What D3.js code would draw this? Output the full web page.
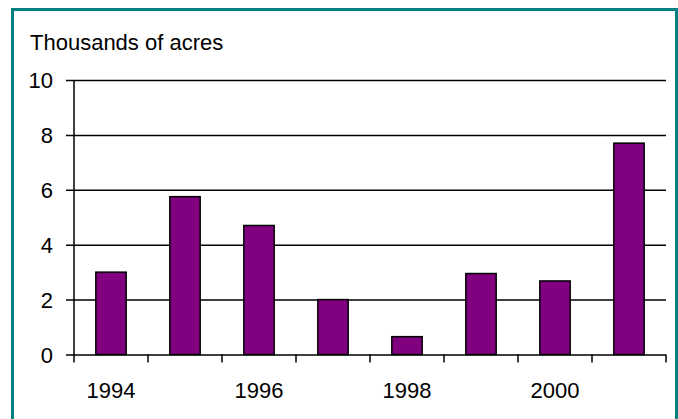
<!DOCTYPE html>
<html>
<head>
<meta charset="utf-8">
<script src="https://cdn.jsdelivr.net/npm/d3@7"></script>
<style>
  html, body { margin: 0; padding: 0; background: #ffffff; }
  svg { display: block; }
  text { font-family: Arial, "Liberation Sans", sans-serif; fill: #000; }
</style>
</head>
<body>
<div id="chart"></div>
<script>
// Acres affected per year, in thousands
const years = ["1994", "1995", "1996", "1997", "1998", "1999", "2000", "2001"];
const acres = [3.0, 5.75, 4.7, 2.0, 0.65, 2.95, 2.68, 7.7];
const yTicks = [0, 2, 4, 6, 8, 10];
const yearLabels = ["1994", "1996", "1998", "2000"];
const unitLabel = "Thousands of acres";

const W = 678, H = 419;
const margin = { left: 74, right: 12, top: 80, bottom: 64.5 };
const fontSize = 22;

const svg = d3.select("#chart").append("svg")
  .attr("width", W).attr("height", H);

svg.append("rect")
  .attr("x", 12.5).attr("y", 9.5)
  .attr("width", 664).attr("height", 420)
  .attr("fill", "#ffffff")
  .attr("stroke", "#008080").attr("stroke-width", 3);

const x = d3.scaleBand()
  .domain(years)
  .range([margin.left, W - margin.right])
  .padding(0);

const y = d3.scaleLinear()
  .domain([0, 10])
  .range([H - margin.bottom, margin.top]);

// Horizontal gridlines with their left-pointing ticks
const yAxis = d3.axisLeft(y)
  .tickValues(yTicks)
  .tickSize(-(x.range()[1] - x.range()[0]))
  .tickFormat(d3.format("d"))
  .tickPadding(21);

const gy = svg.append("g")
  .attr("transform", `translate(${margin.left},0)`)
  .call(yAxis);
gy.select(".domain").remove();
gy.selectAll(".tick line")
  .attr("x1", -8)
  .attr("stroke", "#000").attr("stroke-width", 1.5);
gy.selectAll(".tick text")
  .attr("font-size", fontSize)
  .attr("dy", "0.36em");

// Bars
const barW = x.bandwidth() * 0.41;
svg.append("g").selectAll("rect")
  .data(years.map((yr, i) => ({ yr, v: acres[i] })))
  .join("rect")
  .attr("x", d => x(d.yr) + (x.bandwidth() - barW) / 2)
  .attr("y", d => y(d.v))
  .attr("width", barW)
  .attr("height", d => y(0) - y(d.v))
  .attr("fill", "#800080")
  .attr("stroke", "#000").attr("stroke-width", 1.5);

// Vertical axis line
svg.append("line")
  .attr("x1", margin.left).attr("x2", margin.left)
  .attr("y1", y(10)).attr("y2", y(0) + 8)
  .attr("stroke", "#000").attr("stroke-width", 1.5);

// Category boundary ticks on the baseline
const bounds = years.map(yr => x(yr)).concat([x.range()[1]]);
svg.append("g").selectAll("line")
  .data(bounds.slice(1))
  .join("line")
  .attr("x1", d => d).attr("x2", d => d)
  .attr("y1", y(0)).attr("y2", y(0) + 8)
  .attr("stroke", "#000").attr("stroke-width", 1.5);

// Year labels under every other category
svg.append("g").selectAll("text")
  .data(yearLabels)
  .join("text")
  .attr("x", d => x(d) + x.bandwidth() / 2)
  .attr("y", y(0) + 43)
  .attr("text-anchor", "middle")
  .attr("font-size", fontSize)
  .text(d => d);

svg.append("text")
  .attr("x", 30).attr("y", 50)
  .attr("font-size", fontSize)
  .text(unitLabel);
</script>
</body>
</html>
